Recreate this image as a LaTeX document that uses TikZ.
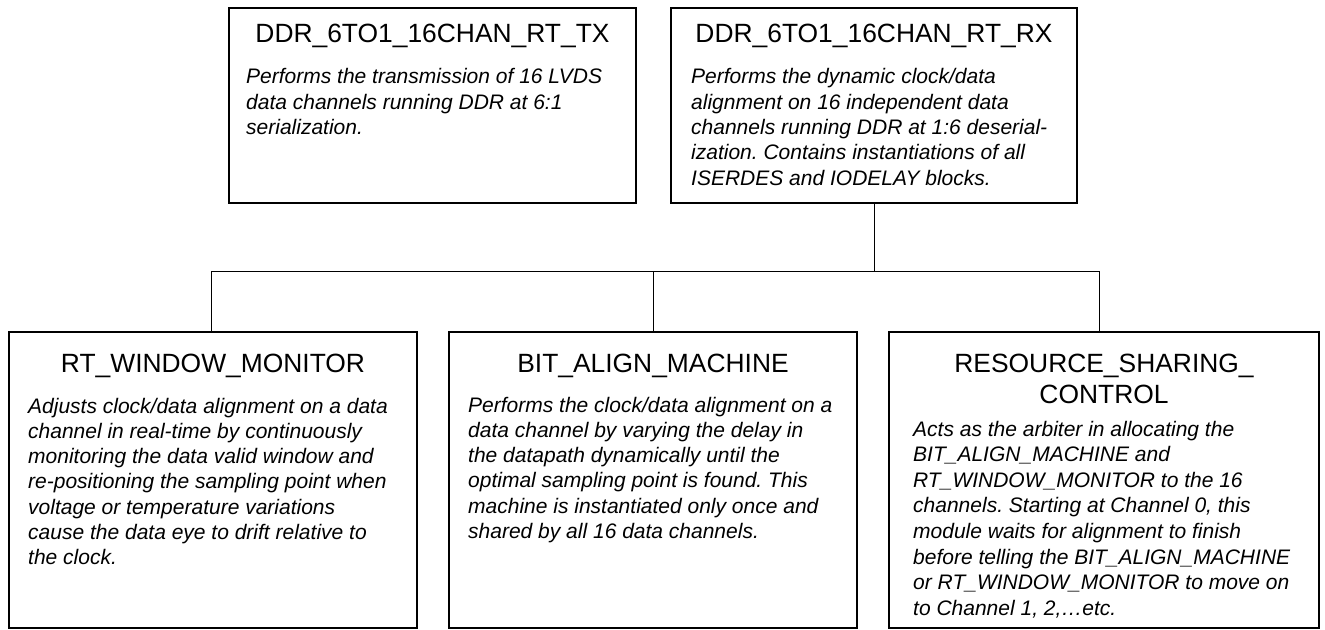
\documentclass[tikz,border=0pt]{standalone}
\usepackage{fontspec}
\setmainfont{Liberation Sans}
\frenchspacing
\newcommand{\lines}[1]{\begin{tabular}[t]{@{}l@{}}#1\end{tabular}}
\newcommand{\clines}[1]{\begin{tabular}[t]{@{}c@{}}#1\end{tabular}}
\begin{document}
\begin{tikzpicture}[x=1bp,y=-1bp,
  block/.style={draw, line width=2bp, inner sep=0pt, minimum height=#1},
  title/.style={anchor=base, inner sep=0pt, font=\fontsize{26.4bp}{31bp}\selectfont},
  desc/.style={anchor=base west, inner sep=0pt, font=\fontsize{21bp}{25.3bp}\selectfont\itshape},
  link/.style={line width=1bp}]
\useasboundingbox (0,0) rectangle (1325,630);

% top level modules
\node[block=195bp, minimum width=407bp] (tx) at (432.5,105.5) {};
\node[block=195bp, minimum width=406bp] (rx) at (874,105.5) {};
% sub-modules of the receiver
\node[block=296bp, minimum width=408bp] (wm) at (213,480) {};
\node[block=296bp, minimum width=408bp] (ba) at (653,480) {};
\node[block=296bp, minimum width=430bp] (rs) at (1104,480) {};

% titles
\node[title] (tx-t) at (432.5,43) {DDR\_6TO1\_16CHAN\_RT\_TX};
\node[title] (rx-t) at (874,43) {DDR\_6TO1\_16CHAN\_RT\_RX};
\node[title] (wm-t) at (213,372) {RT\_WINDOW\_MONITOR};
\node[title] (ba-t) at (653,372) {BIT\_ALIGN\_MACHINE};
\node[title] (rs-t) at (1104,372) {\clines{RESOURCE\_SHARING\_\\CONTROL}};

% descriptions
\node[desc] (tx-d) at (246,84) {\lines{Performs the transmission of 16 LVDS\\
data channels running DDR at 6:1\\
serialization.}};
\node[desc] (rx-d) at (691,84) {\lines{Performs the dynamic clock/data\\
alignment on 16 independent data\\
channels running DDR at 1:6 deserial-\\
ization. Contains instantiations of all\\
ISERDES and IODELAY blocks.}};
\node[desc] (wm-d) at (28,413) {\lines{Adjusts clock/data alignment on a data\\
channel in real-time by continuously\\
monitoring the data valid window and\\
re-positioning the sampling point when\\
voltage or temperature variations\\
cause the data eye to drift relative to\\
the clock.}};
\node[desc] (ba-d) at (468,412) {\lines{Performs the clock/data alignment on a\\
data channel by varying the delay in\\
the datapath dynamically until the\\
optimal sampling point is found. This\\
machine is instantiated only once and\\
shared by all 16 data channels.}};
\node[desc, font=\fontsize{21bp}{25.6bp}\selectfont\itshape] (rs-d) at (913,436) {\lines{Acts as the arbiter in allocating the\\
BIT\_ALIGN\_MACHINE and\\
RT\_WINDOW\_MONITOR to the 16\\
channels. Starting at Channel 0, this\\
module waits for alignment to finish\\
before telling the BIT\_ALIGN\_MACHINE\\
or RT\_WINDOW\_MONITOR to move on\\
to Channel 1, 2,…etc.}};

% hierarchy connectors
\coordinate (bus) at (874,271);
\coordinate (busL) at (211,271);
\coordinate (busM) at (653,271);
\coordinate (busR) at (1099,271);
\draw[link] (rx.south) -- (bus);
\draw[link] (busL) -- (busR);
\draw[link] (busL) -- (busL |- wm.north);
\draw[link] (busM) -- (busM |- ba.north);
\draw[link] (busR) -- (busR |- rs.north);
\end{tikzpicture}
\end{document}
